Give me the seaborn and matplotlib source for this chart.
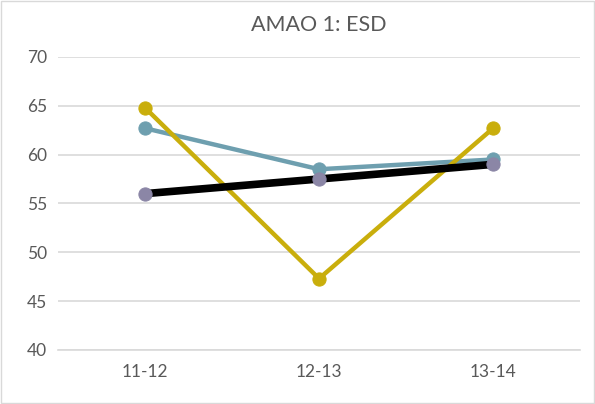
import pandas as pd
import matplotlib
matplotlib.use("Agg")
import matplotlib.pyplot as plt
import seaborn as sns

# Chart values
years = ["11-12", "12-13", "13-14"]
teal_vals = [62.7, 58.5, 59.5]
gold_vals = [64.8, 47.3, 62.7]
target_vals = [56.0, 57.5, 59.0]

df = pd.DataFrame({
    "year": years * 3,
    "value": teal_vals + gold_vals + target_vals,
    "series": ["teal"] * 3 + ["gold"] * 3 + ["target"] * 3,
})

sns.set_style("white")
plt.rcParams["font.family"] = ["Lato", "DejaVu Sans"]

fig = plt.figure(figsize=(5.95, 4.04), dpi=100)
ax = fig.add_axes([0.0975, 0.134, 0.8775, 0.725])

styles = {
    "teal": dict(color="#6E9FAF", lw=3.2, mfc="#6E9FAF", zorder=3),
    "gold": dict(color="#C9AE0C", lw=3.2, mfc="#C9AE0C", zorder=4),
    "target": dict(color="#000000", lw=5.5, mfc="#8B86A6", zorder=5),
}
for name in ["teal", "gold", "target"]:
    st = styles[name]
    sub = df[df["series"] == name]
    sns.lineplot(data=sub, x="year", y="value", ax=ax, color=st["color"],
                 lw=st["lw"], marker="o", markersize=9.5,
                 markerfacecolor=st["mfc"], markeredgecolor=st["mfc"],
                 zorder=st["zorder"], sort=False)

ax.set_xlim(-0.5, 2.5)
ax.set_ylim(40, 70)
ax.set_yticks(range(40, 71, 5))
ax.yaxis.grid(True, color="#D9D9D9", lw=1.2)
ax.set_axisbelow(True)
for side in ["top", "right", "left"]:
    ax.spines[side].set_visible(False)
ax.spines["bottom"].set_color("#D9D9D9")
ax.spines["bottom"].set_linewidth(1.2)

ax.set_xticks([-0.5, 0.5, 1.5, 2.5], minor=False)
ax.set_xticklabels([])
ax.set_xticks([0, 1, 2], minor=True)
ax.set_xticklabels(years, minor=True)
ax.tick_params(axis="x", which="major", length=6, color="#D9D9D9", width=1.2)
ax.tick_params(axis="x", which="minor", length=0, pad=10, labelsize=12.5, labelcolor="#595959")
ax.tick_params(axis="y", length=0, pad=8, labelsize=12.5, labelcolor="#595959")
ax.set_xlabel("")
ax.set_ylabel("")
ax.set_title("AMAO 1: ESD", fontsize=15.5, color="#595959", pad=19)

fig.patches.append(plt.Rectangle((0.002, 0.002), 0.996, 0.996, transform=fig.transFigure,
                                 fill=False, edgecolor="#D9D9D9", lw=1))

fig.savefig("out.png", dpi=100)
